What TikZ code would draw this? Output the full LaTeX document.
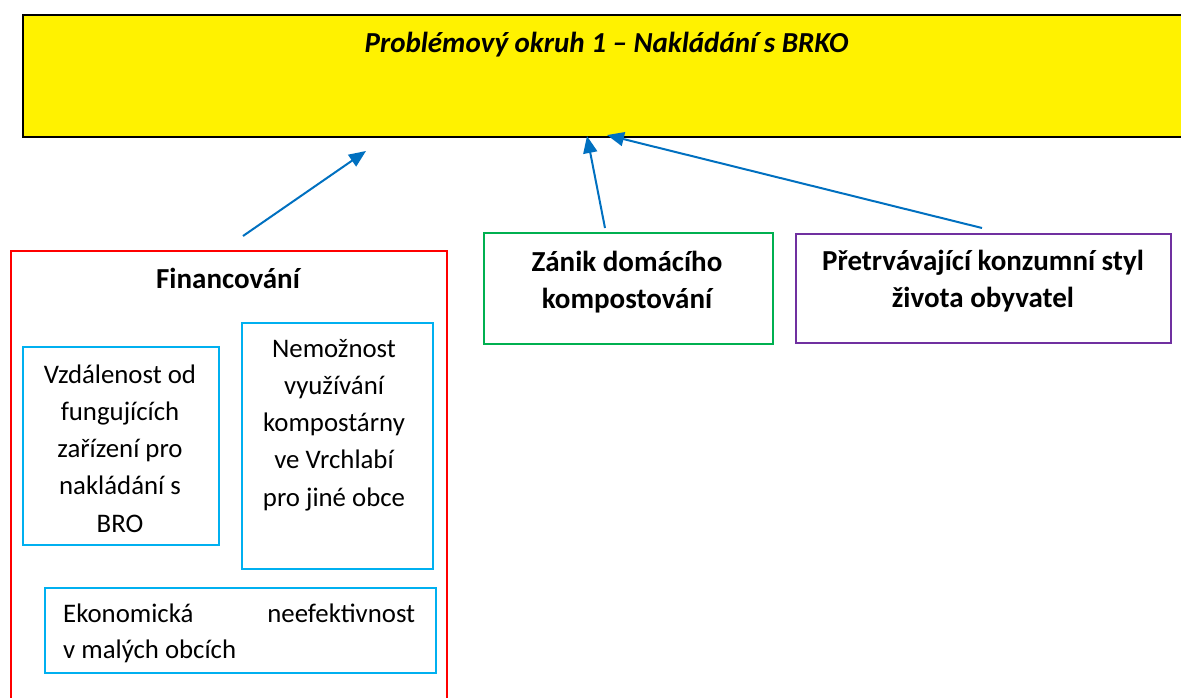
\documentclass[tikz,border=0pt]{standalone}
\usepackage{fontspec}
\setmainfont{Carlito}
\usetikzlibrary{arrows.meta}
\definecolor{boxblue}{RGB}{0,176,240}
\definecolor{boxgreen}{RGB}{0,176,80}
\definecolor{boxpurple}{RGB}{112,48,160}
\definecolor{arrowblue}{RGB}{0,112,192}
\definecolor{boxred}{RGB}{255,0,0}
\begin{document}
\begin{tikzpicture}[x=1pt,y=-1pt,
  every node/.style={font=\fontsize{26.8}{37.3}\selectfont, inner sep=0pt},
  box/.style={draw, line width=2.2pt, anchor=north west},
  txt/.style={anchor=base, align=center},
  boldtxt/.style={txt, font=\fontsize{29}{37}\selectfont\bfseries},
  arr/.style={draw=arrowblue, line width=2pt, -{Triangle[length=17pt,width=14pt]}}]
\useasboundingbox (0,0) rectangle (1181,697);
\clip (0,0) rectangle (1181,697);
% main problem box
\node[box, draw=black, line width=1.8pt, fill=yellow, minimum width=1200pt, minimum height=122pt] (prob) at (22,14) {};
\node[txt, font=\fontsize{29}{37}\selectfont\bfseries\itshape] (title) at (606.5,52) {Problémový okruh 1 – Nakládání s BRKO};
% Financovani
\node[box, draw=boxred, line width=2pt, minimum width=436pt, minimum height=470pt] (fin) at (10,250) {};
\node[boldtxt] (fintext) at (228,288) {Financování};
\node[box, draw=boxblue, minimum width=196pt, minimum height=198pt] (vzd) at (22,346) {};
\node[txt] (vzdtext) at (120,532.2) {Vzdálenost od\\fungujících\\zařízení pro\\nakládání s\\BRO};
\node[box, draw=boxblue, minimum width=191pt, minimum height=246pt] (nem) at (241,322) {};
\node[txt] (nemtext) at (334,506.2) {Nemožnost\\využívání\\kompostárny\\ve Vrchlabí\\pro jiné obce};
\node[box, draw=boxblue, minimum width=391pt, minimum height=85pt] (eko) at (44,587) {};
\node[anchor=base west, align=left, font=\fontsize{26.8}{36.5}\selectfont] (ekotext) at (63,658.5) {\makebox[352pt][l]{Ekonomická\hfill neefektivnost}\\v malých obcích};
% other causes
\node[box, draw=boxgreen, minimum width=289pt, minimum height=111pt] (zan) at (483,232) {};
\node[boldtxt] (zantext) at (627,308) {Zánik domácího\\kompostování};
\node[box, draw=boxpurple, minimum width=375pt, minimum height=109pt] (pre) at (795,233) {};
\node[boldtxt] (pretext) at (983,307) {Přetrvávající konzumní styl\\života obyvatel};
% arrows
\coordinate (a1s) at (243,236);
\coordinate (a1e) at (366,151);
\coordinate (a2s) at (605,228);
\coordinate (a2e) at (587,136);
\coordinate (a3s) at (982,228);
\coordinate (a3e) at (607,135);
\draw[arr] (a1s) -- (a1e);
\draw[arr] (a2s) -- (a2e);
\draw[arr] (a3s) -- (a3e);
\end{tikzpicture}
\end{document}
